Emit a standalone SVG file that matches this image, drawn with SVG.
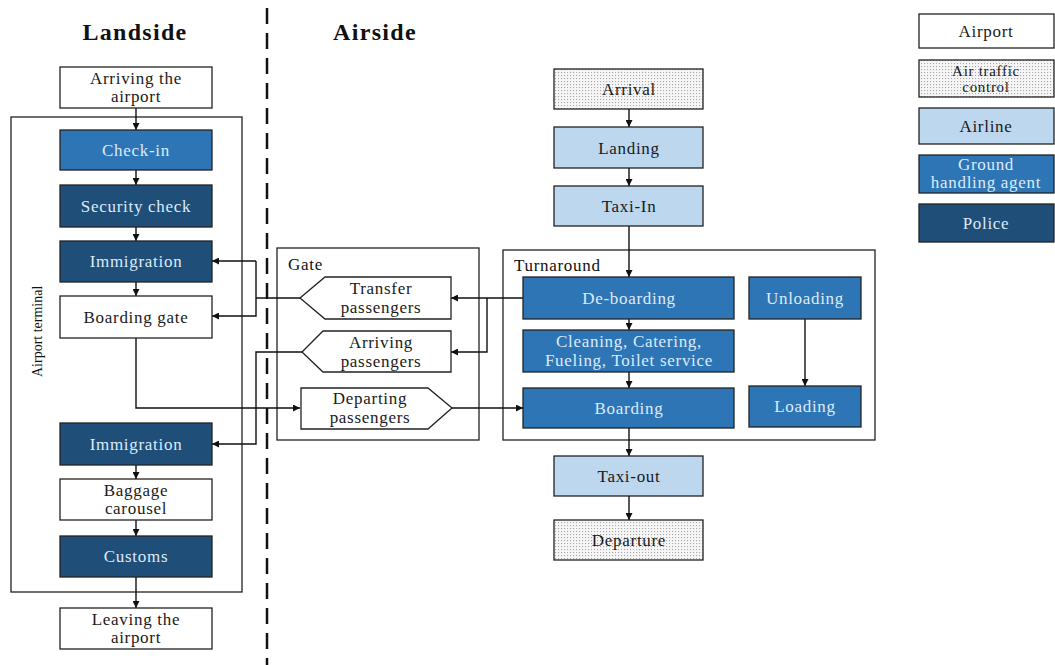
<svg xmlns="http://www.w3.org/2000/svg" width="1055" height="665" viewBox="0 0 1055 665">
<defs>
<pattern id="dots" width="3" height="3" patternUnits="userSpaceOnUse">
<rect width="3" height="3" fill="#f6f6f6"/>
<rect x="0" y="0" width="1.1" height="1.1" fill="#a8a8a8"/>
</pattern>
<marker id="ah" viewBox="0 0 10 10" refX="10" refY="5" markerWidth="7" markerHeight="7" markerUnits="userSpaceOnUse" orient="auto">
<path d="M0,0 L10,5 L0,10 z" fill="#111"/>
</marker>
</defs>
<style>
text{font-family:"Liberation Serif","DejaVu Serif",serif;font-size:17px;letter-spacing:0.7px;text-anchor:middle}
.hd{font-size:24px;font-weight:bold;fill:#111;letter-spacing:1.3px}
.b{stroke:#222;stroke-width:1.3}
.w{fill:#fff}
.atc{fill:url(#dots)}
.al{fill:#bdd7ee}
.gh{fill:#2e75b6}
.po{fill:#1f4e79}
.dk{fill:#1a1a1a}
.lt{fill:#dcebfa}
.frame{fill:none;stroke:#222;stroke-width:1.3}
.c{fill:none;stroke:#111;stroke-width:1.4}
.ca{fill:none;stroke:#111;stroke-width:1.4;marker-end:url(#ah)}
.lbl{text-anchor:start;fill:#111}
</style>
<rect width="1055" height="665" fill="#fff"/>

<g id="headers">
<text class="hd" x="135" y="40">Landside</text>
<text class="hd" x="375" y="40">Airside</text>
<line x1="267" y1="8" x2="267" y2="665" stroke="#111" stroke-width="2.5" stroke-dasharray="16,9"/>
</g>

<g id="airport-terminal">
<rect class="frame" x="11" y="117" width="231" height="475"/>
<text class="lbl" transform="translate(42,377) rotate(-90)" style="font-size:14px;letter-spacing:0">Airport terminal</text>
</g>
<g id="gate">
<rect class="frame" x="277" y="248" width="202" height="192"/>
<text class="lbl" x="288" y="270">Gate</text>
</g>
<g id="turnaround">
<rect class="frame" x="503" y="250" width="372" height="190"/>
<text class="lbl" x="514" y="271">Turnaround</text>
</g>

<g id="connectors">
<line class="ca" x1="136" y1="108" x2="136" y2="130"/>
<line class="ca" x1="136" y1="170" x2="136" y2="185"/>
<line class="ca" x1="136" y1="227" x2="136" y2="241"/>
<line class="ca" x1="136" y1="282" x2="136" y2="296"/>
<line class="ca" x1="136" y1="465" x2="136" y2="479"/>
<line class="ca" x1="136" y1="520" x2="136" y2="536"/>
<line class="ca" x1="136" y1="577" x2="136" y2="608"/>
<polyline class="ca" points="256,261 212,261"/>
<polyline class="ca" points="256,261 256,316 212,316"/>
<line class="c" x1="256" y1="298" x2="300" y2="298"/>
<polyline class="ca" points="302,352 256,352 256,444 212,444"/>
<polyline class="ca" points="136,338 136,408 300,408"/>
<line class="ca" x1="523" y1="298" x2="451" y2="298"/>
<polyline class="ca" points="487,298 487,352 451,352"/>
<line class="ca" x1="452" y1="408" x2="523" y2="408"/>
<line class="ca" x1="629" y1="109" x2="629" y2="127"/>
<line class="ca" x1="629" y1="168" x2="629" y2="186"/>
<line class="ca" x1="629" y1="226" x2="629" y2="277"/>
<line class="ca" x1="629" y1="319" x2="629" y2="330"/>
<line class="ca" x1="629" y1="372" x2="629" y2="388"/>
<line class="ca" x1="629" y1="428" x2="629" y2="456"/>
<line class="ca" x1="629" y1="496" x2="629" y2="520"/>
<line class="ca" x1="805" y1="319" x2="805" y2="386"/>
</g>

<g id="arriving-airport"><rect class="b w" x="60" y="67" width="152" height="41"/><text class="dk" x="136" y="84">Arriving the</text><text class="dk" x="136" y="102">airport</text></g>
<g id="check-in"><rect class="b gh" x="60" y="130" width="152" height="40"/><text class="lt" x="136" y="156">Check-in</text></g>
<g id="security-check"><rect class="b po" x="60" y="185" width="152" height="42"/><text class="lt" x="136" y="212">Security check</text></g>
<g id="immigration-1"><rect class="b po" x="60" y="241" width="152" height="41"/><text class="lt" x="136" y="267">Immigration</text></g>
<g id="boarding-gate"><rect class="b w" x="60" y="296" width="152" height="42"/><text class="dk" x="136" y="323">Boarding gate</text></g>
<g id="immigration-2"><rect class="b po" x="60" y="423" width="152" height="42"/><text class="lt" x="136" y="450">Immigration</text></g>
<g id="baggage-carousel"><rect class="b w" x="60" y="479" width="152" height="41"/><text class="dk" x="136" y="496">Baggage</text><text class="dk" x="136" y="514">carousel</text></g>
<g id="customs"><rect class="b po" x="60" y="536" width="152" height="41"/><text class="lt" x="136" y="562">Customs</text></g>
<g id="leaving-airport"><rect class="b w" x="60" y="608" width="152" height="41"/><text class="dk" x="136" y="625">Leaving the</text><text class="dk" x="136" y="643">airport</text></g>

<g id="transfer-passengers"><polygon class="b w" points="300,298 325,277 451,277 451,319 325,319"/><text class="dk" x="381" y="294">Transfer</text><text class="dk" x="381" y="313">passengers</text></g>
<g id="arriving-passengers"><polygon class="b w" points="302,352 323,331 451,331 451,372 323,372"/><text class="dk" x="381" y="348">Arriving</text><text class="dk" x="381" y="367">passengers</text></g>
<g id="departing-passengers"><polygon class="b w" points="301,388 428,388 452,408 428,429 301,429"/><text class="dk" x="370" y="404">Departing</text><text class="dk" x="370" y="423">passengers</text></g>

<g id="arrival"><rect class="b atc" x="554" y="69" width="149" height="40"/><text class="dk" x="629" y="95">Arrival</text></g>
<g id="landing"><rect class="b al" x="554" y="127" width="149" height="41"/><text class="dk" x="629" y="154">Landing</text></g>
<g id="taxi-in"><rect class="b al" x="554" y="186" width="149" height="40"/><text class="dk" x="629" y="212">Taxi-In</text></g>
<g id="de-boarding"><rect class="b gh" x="523" y="277" width="211" height="42"/><text class="lt" x="629" y="304">De-boarding</text></g>
<g id="cleaning"><rect class="b gh" x="523" y="330" width="211" height="42"/><text class="lt" x="629" y="347">Cleaning, Catering,</text><text class="lt" x="629" y="366">Fueling, Toilet service</text></g>
<g id="boarding"><rect class="b gh" x="523" y="388" width="211" height="40"/><text class="lt" x="629" y="414">Boarding</text></g>
<g id="unloading"><rect class="b gh" x="749" y="277" width="112" height="42"/><text class="lt" x="805" y="304">Unloading</text></g>
<g id="loading"><rect class="b gh" x="749" y="386" width="112" height="41"/><text class="lt" x="805" y="412">Loading</text></g>
<g id="taxi-out"><rect class="b al" x="554" y="456" width="149" height="40"/><text class="dk" x="629" y="482">Taxi-out</text></g>
<g id="departure"><rect class="b atc" x="554" y="520" width="149" height="40"/><text class="dk" x="629" y="546">Departure</text></g>

<g id="legend">
<g id="legend-airport"><rect class="b w" x="919" y="14" width="135" height="34"/><text class="dk" x="986" y="37">Airport</text></g>
<g id="legend-atc"><rect class="b atc" x="919" y="60" width="135" height="37"/><text class="dk" x="986" y="76" style="font-size:15px">Air traffic</text><text class="dk" x="986" y="92" style="font-size:15px">control</text></g>
<g id="legend-airline"><rect class="b al" x="919" y="108" width="135" height="36"/><text class="dk" x="986" y="132">Airline</text></g>
<g id="legend-gha"><rect class="b gh" x="919" y="155" width="135" height="38"/><text class="lt" x="986" y="170">Ground</text><text class="lt" x="986" y="188">handling agent</text></g>
<g id="legend-police"><rect class="b po" x="919" y="204" width="135" height="38"/><text class="lt" x="986" y="229">Police</text></g>
</g>
</svg>
